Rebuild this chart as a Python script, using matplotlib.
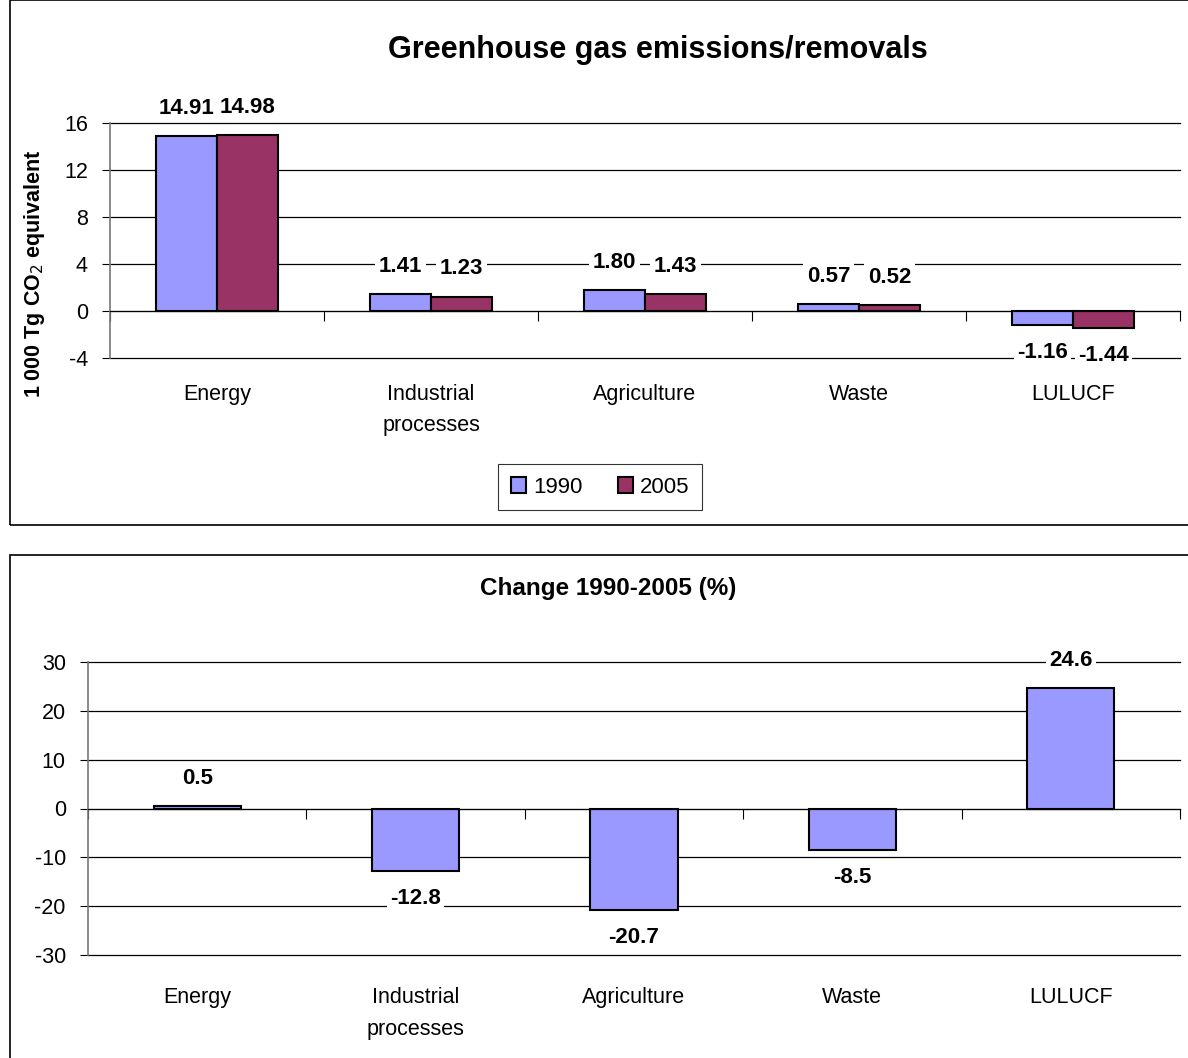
import numpy as np
import matplotlib
matplotlib.use("Agg")
import matplotlib.pyplot as plt
from matplotlib.patches import Rectangle
from matplotlib.transforms import blended_transform_factory

plt.rcParams['font.family'] = ['Liberation Sans', 'DejaVu Sans']
plt.rcParams['axes.unicode_minus'] = False

# data
categories = ['Energy', 'Industrial\nprocesses', 'Agriculture', 'Waste', 'LULUCF']
years = ['1990', '2005']
emis_1990 = [14.91, 1.41, 1.80, 0.57, -1.16]
emis_2005 = [14.98, 1.23, 1.43, 0.52, -1.44]
change_pct = [0.5, -12.8, -20.7, -8.5, 24.6]

c1990 = '#9999FF'
c2005 = '#993366'

W, H = 1188, 1058
fig = plt.figure(figsize=(W / 100, H / 100), dpi=100)

def fx(px):
    return px / W

def fy(py):
    return 1 - py / H

# panel frames
fig.add_artist(Rectangle((fx(10), fy(525)), fx(1200), 525 / H, transform=fig.transFigure,
                         fill=False, edgecolor='black', lw=1.2))
fig.add_artist(Rectangle((fx(10), fy(1060)), fx(1200), (1060 - 555) / H, transform=fig.transFigure,
                         fill=False, edgecolor='black', lw=1.2))


def style_axes(ax, ylim, yticks):
    ax.set_xlim(0, len(categories))
    ax.set_ylim(*ylim)
    ax.set_yticks(yticks)
    ax.yaxis.grid(True, color='black', lw=0.9)
    for gl in ax.get_ygridlines():
        gl.set_clip_on(False)
    ax.set_axisbelow(True)
    for s in ['top', 'right']:
        ax.spines[s].set_visible(False)
    ax.spines['left'].set_color('#777777')
    ax.spines['left'].set_linewidth(1.2)
    ax.spines['bottom'].set_position(('data', 0))
    ax.spines['bottom'].set_color('black')
    ax.set_xticks(np.arange(len(categories) + 1))
    ax.set_xticklabels([])
    ax.tick_params(axis='x', direction='out', length=7, color='black')
    ax.tick_params(axis='y', direction='out', length=6, color='black', labelsize=15.5, pad=10)
    tr = blended_transform_factory(ax.transData, ax.transAxes)
    for i, c in enumerate(categories):
        ax.text(i + 0.5, -0.11, c, transform=tr, ha='center', va='top',
                fontsize=15.5, linespacing=1.65)


def label(ax, x, v, txt, off):
    ax.annotate(txt, (x, v), xytext=(0, off if v >= 0 else -off), textcoords='offset points',
                ha='center', va='center', fontsize=16, fontweight='bold',
                bbox=dict(boxstyle='square,pad=0.15', fc='white', ec='none'))


# top panel
ax1 = fig.add_axes([fx(110), fy(358), fx(1070), 235 / H])
style_axes(ax1, (-4, 16), np.arange(-4, 17, 4))
x = np.arange(len(categories)) + 0.5
bw = 0.285
b1 = ax1.bar(x - bw / 2, emis_1990, bw, color=c1990, edgecolor='black', lw=1.5, label=years[0])
b2 = ax1.bar(x + bw / 2, emis_2005, bw, color=c2005, edgecolor='black', lw=1.5, label=years[1])
for i in range(len(categories)):
    label(ax1, x[i] - bw / 2, emis_1990[i], f'{emis_1990[i]:.2f}', 20)
    label(ax1, x[i] + bw / 2, emis_2005[i], f'{emis_2005[i]:.2f}', 20)

fig.text(fx(35), fy(274), '1 000 Tg CO$_2$ equivalent', rotation=90, ha='center', va='center',
         fontsize=15.5, fontweight='bold')
fig.text(fx(658), fy(50), 'Greenhouse gas emissions/removals', ha='center', va='center',
         fontsize=22, fontweight='bold')

leg = fig.legend(handles=[b1, b2], loc='center', bbox_to_anchor=(fx(600), fy(487)), ncol=2,
                 fontsize=16, frameon=True, fancybox=False, edgecolor='black',
                 handlelength=0.7, handleheight=0.7, handletextpad=0.3, columnspacing=1.6,
                 borderpad=0.55)
leg.get_frame().set_linewidth(0.8)

# bottom panel
ax2 = fig.add_axes([fx(88), fy(955), fx(1092), 293 / H])
style_axes(ax2, (-30, 30), np.arange(-30, 31, 10))
ax2.bar(x, change_pct, 0.4, color=c1990, edgecolor='black', lw=1.5)
for i in range(len(categories)):
    label(ax2, x[i], change_pct[i], f'{change_pct[i]:.1f}', 20)

fig.text(fx(608), fy(588), 'Change 1990-2005 (%)', ha='center', va='center',
         fontsize=17.5, fontweight='bold')

fig.savefig('out.png', dpi=100)
